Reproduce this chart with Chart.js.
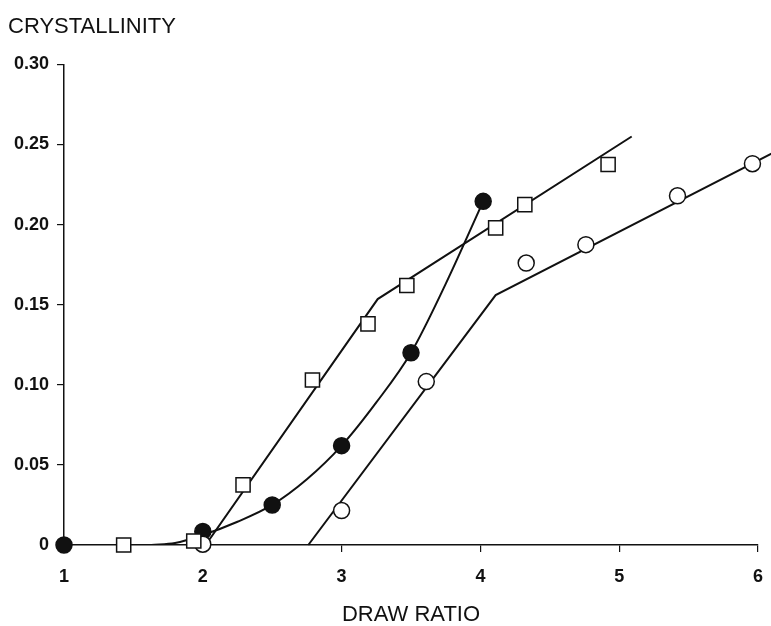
<!DOCTYPE html>
<html>
<head>
<meta charset="utf-8">
<script src="https://cdn.jsdelivr.net/npm/chart.js@4/dist/chart.umd.min.js"></script>
<style>
  html, body { margin: 0; padding: 0; background: #fff; }
  #wrap { width: 771px; height: 626px; }
</style>
</head>
<body>
<div id="wrap"><canvas id="crystChart" width="771" height="626"></canvas></div>
<script>
"use strict";

// measured points: [draw ratio, crystallinity]
var filledCircles = [[1.0, 0], [2.0, 0.0085], [2.5, 0.025], [3.0, 0.062], [3.5, 0.120], [4.02, 0.2145]];
var openSquares = [[1.43, 0], [1.935, 0.0025], [2.29, 0.0375], [2.79, 0.103], [3.19, 0.138],
  [3.47, 0.162], [4.11, 0.198], [4.32, 0.2125], [4.92, 0.2375]];
var openCircles = [[2.0, 0.0005], [3.0, 0.0215], [3.61, 0.102], [4.33, 0.176], [4.76, 0.1875],
  [5.42, 0.218], [5.96, 0.238]];

// fitted lines
var filledCurve = [[1.63, 0], [1.8, 0.0012], [2.0, 0.0062], [2.25, 0.0145], [2.5, 0.025], [2.75, 0.041],
  [3.0, 0.062], [3.25, 0.089], [3.5, 0.120], [3.75, 0.163], [4.02, 0.2145]];
var squareFit = [[2.02, 0], [3.26, 0.1535], [5.09, 0.255]];
var circleFit = [[2.76, 0], [4.11, 0.156], [6.1, 0.2445]];

var xTicks = [1, 2, 3, 4, 5, 6];
var yTicks = [0, 0.05, 0.10, 0.15, 0.20, 0.25, 0.30];

var FONT = "'Liberation Sans', Arial, Helvetica, sans-serif";
var INK = "#111";

function pts(arr) {
  return arr.map(function (p) {
    return { x: p[0], y: p[1] };
  });
}

function fitLine(arr, extra) {
  var ds = {
    data: pts(arr),
    showLine: true,
    borderColor: INK,
    borderWidth: 2,
    pointRadius: 0,
    pointHoverRadius: 0,
    fill: false,
    order: 2,
  };
  for (var k in extra) ds[k] = extra[k];
  return ds;
}

function markers(arr, style, radius, filled) {
  return {
    data: pts(arr),
    showLine: false,
    clip: false,
    pointStyle: style,
    pointRadius: radius,
    pointHoverRadius: radius,
    pointBorderWidth: 1.5,
    pointBorderColor: INK,
    pointBackgroundColor: filled ? INK : "#fff",
    order: 1,
  };
}

new Chart(document.getElementById("crystChart"), {
  type: "scatter",
  data: {
    datasets: [
      fitLine(filledCurve, { cubicInterpolationMode: "monotone" }),
      fitLine(squareFit),
      fitLine(circleFit, { clip: false }),
      markers(openSquares, "rect", 10, false),
      markers(openCircles, "circle", 8, false),
      markers(filledCircles, "circle", 8, true),
    ],
  },
  options: {
    responsive: false,
    animation: false,
    layout: { padding: { left: 8, right: 13, top: 0, bottom: 0 } },
    plugins: {
      legend: { display: false },
      tooltip: { enabled: false },
      title: {
        display: true,
        text: "CRYSTALLINITY",
        align: "start",
        color: INK,
        font: { family: FONT, size: 22, weight: "normal" },
        padding: { top: 14, bottom: 24 },
      },
    },
    scales: {
      x: {
        type: "linear",
        min: 1,
        max: 6,
        afterFit: function (scale) {
          scale.height = 81;
          // keep the plot edges fixed; the end labels fit in the margins
          scale.paddingLeft = 0;
          scale.paddingRight = 6;
        },
        afterBuildTicks: function (scale) {
          scale.ticks = xTicks.map(function (v) {
            return { value: v };
          });
        },
        border: { display: true, color: INK, width: 1.5 },
        grid: { drawOnChartArea: false, drawTicks: true, tickLength: 7, color: INK, lineWidth: 1.2 },
        ticks: {
          color: INK,
          padding: 14,
          maxRotation: 0,
          font: { family: FONT, size: 18, weight: "bold" },
        },
        title: {
          display: true,
          text: "DRAW RATIO",
          color: INK,
          font: { family: FONT, size: 22, weight: "normal" },
          padding: { top: 0, bottom: -2 },
        },
      },
      y: {
        type: "linear",
        min: 0,
        max: 0.3,
        afterFit: function (scale) {
          scale.width = 56;
        },
        afterBuildTicks: function (scale) {
          scale.ticks = yTicks.map(function (v) {
            return { value: v };
          });
        },
        border: { display: true, color: INK, width: 1.5 },
        grid: { drawOnChartArea: false, drawTicks: true, tickLength: 7, color: INK, lineWidth: 1.2 },
        ticks: {
          color: INK,
          padding: 8,
          font: { family: FONT, size: 18, weight: "bold" },
          callback: function (v) {
            return v === 0 ? "0" : v.toFixed(2);
          },
        },
      },
    },
  },
});
</script>
</body>
</html>
